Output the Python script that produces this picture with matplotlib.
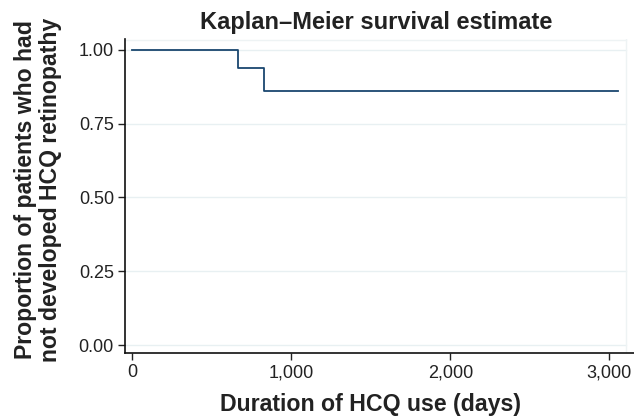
import matplotlib
matplotlib.use('Agg')
import matplotlib.pyplot as plt
from matplotlib.ticker import FuncFormatter

# Kaplan-Meier step values
days = [0, 663, 830, 3055]
surv = [1.00, 0.94, 0.862, 0.862]

yticks = [0.0, 0.25, 0.5, 0.75, 1.0]
xticks = [0, 1000, 2000, 3000]

plt.rcParams['font.family'] = ['Liberation Sans', 'DejaVu Sans']

fig = plt.figure(figsize=(6.34, 4.18), dpi=100)
ax = fig.add_axes([125/634, 1 - 353/418, (634 - 125)/634, (353 - 39)/418])

grid_end = (626 - 125) / (634 - 125)
for y in yticks:
    ax.axhline(y, xmax=grid_end, color='#e8f0f2', linewidth=1, zorder=0)
# faint plot-region border (top and right)
ax.axhline(1.034, xmax=grid_end, color='#eef3f4', linewidth=1, zorder=0)
ax.axvline(3105, color='#eef3f4', linewidth=1, zorder=0)

ax.step(days, surv, where='post', color='#1a476f', linewidth=1.3, zorder=3)

ax.set_xlim(-46, 3155)
ax.set_ylim(-0.027, 1.037)
ax.set_xticks(xticks)
ax.set_yticks(yticks)
ax.xaxis.set_major_formatter(FuncFormatter(lambda v, p: f'{int(v):,}'))
ax.yaxis.set_major_formatter(FuncFormatter(lambda v, p: f'{v:.2f}'))
ax.tick_params(axis='both', direction='out', length=5, width=1, labelsize=13, colors='#222222', pad=3)

for s in ['top', 'right']:
    ax.spines[s].set_visible(False)
for s in ['left', 'bottom']:
    ax.spines[s].set_linewidth(1.2)
    ax.spines[s].set_color('#111111')

fig.text(370/634, 1 - 405/418, 'Duration of HCQ use (days)', ha='center', va='center',
         fontsize=16.7, fontweight='bold', color='#222222')
fig.text(38/634, 1 - 190/418, 'Proportion of patients who had\nnot developed HCQ retinopathy',
         ha='center', va='center', rotation=90, fontsize=16.6, fontweight='bold',
         color='#222222', linespacing=1.15)
fig.text(376/634, 1 - 23/418, 'Kaplan\u2013Meier survival estimate', ha='center', va='center',
         fontsize=17, fontweight='bold', color='#222222')

fig.savefig('out.png', dpi=100, facecolor='white')
